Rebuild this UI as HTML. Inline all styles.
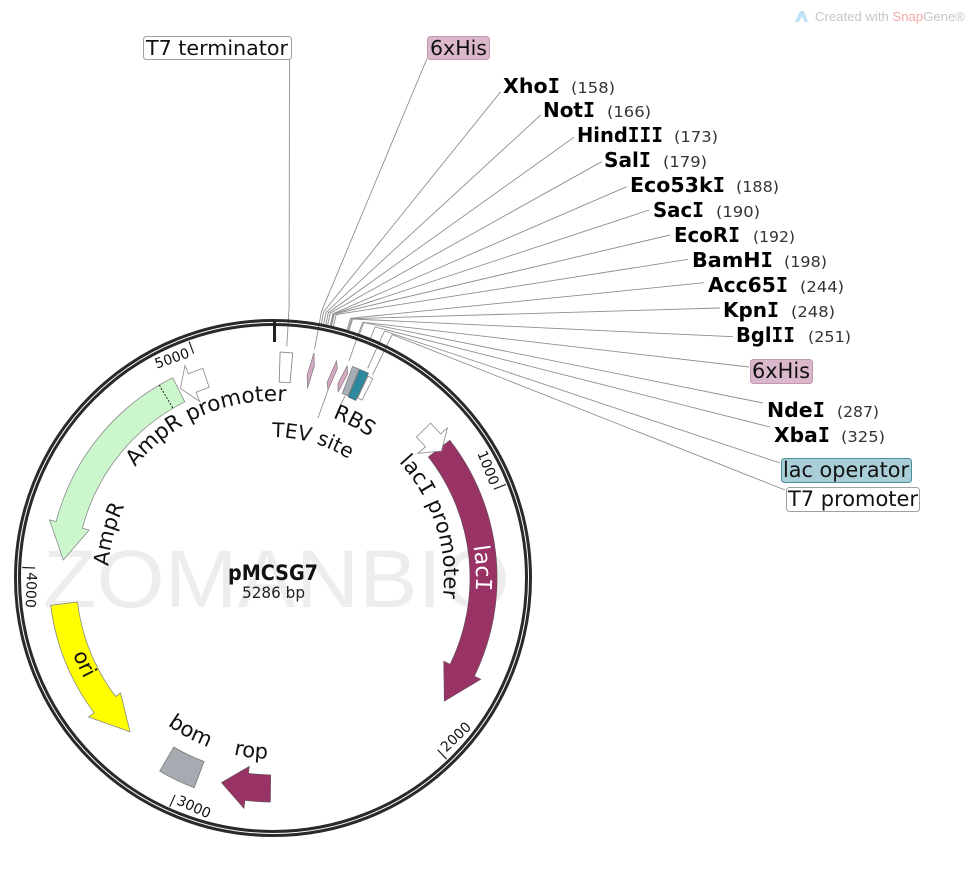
<!DOCTYPE html>
<html>
<head>
<meta charset="utf-8">
<style>
  html,body{margin:0;padding:0;background:#fff;}
  svg{display:block;}
  .si{font-family:"DejaVu Sans Mono","Liberation Mono",monospace;}
</style>
</head>
<body>
<svg width="974" height="869" viewBox="0 0 974 869" xmlns="http://www.w3.org/2000/svg" font-family="'DejaVu Sans','Liberation Sans',sans-serif">
  <rect x="0" y="0" width="974" height="869" fill="#ffffff"/>

  <!-- watermark -->
  <text x="43" y="607" font-family="'Liberation Sans',sans-serif" font-size="82" fill="#ededed" textLength="467" lengthAdjust="spacingAndGlyphs">ZOMANBIO</text>

  <!-- SnapGene credit -->
  <polygon points="795,22 800,11 804,11 808,22 804.5,22 802,16 799,22" fill="#bfe3f5"/>
  <text x="815" y="21" font-family="'Liberation Sans',sans-serif" font-size="12.5" fill="#c6c6c6" textLength="150" lengthAdjust="spacingAndGlyphs">Created with <tspan fill="#f2a8a8">Snap</tspan>Gene®</text>

  <!-- leader lines -->
  <g fill="none" stroke="#8f8f8f" stroke-width="0.9">
    <polyline points="289.5,59 289.1,307.5 286.8,346.4"/>
    <polyline points="427,58.5 321.5,311.4 314.5,349.7"/>
    <polyline points="500.7,91.7 323.6,311.8 321.4,323.6"/>
    <polyline points="540.7,115 326.1,312.3 323.7,324.0"/>
    <polyline points="574,137.3 328.3,312.7 325.9,324.5"/>
    <polyline points="601.7,161.7 330.2,313.1 327.7,324.8"/>
    <polyline points="626.7,186.7 333.0,313.7 330.4,325.4"/>
    <polyline points="649.3,210 333.7,313.9 331.0,325.6"/>
    <polyline points="670,235 334.3,314.0 331.6,325.7"/>
    <polyline points="688.3,259.3 336.2,314.5 333.4,326.1"/>
    <polyline points="704,282.7 350.5,318.3 347.1,329.8"/>
    <polyline points="720,308 351.7,318.7 348.2,330.2"/>
    <polyline points="733,336.7 352.6,319.0 349.1,330.5"/>
    <polyline points="749,367 362.6,322.2 349.0,360.9"/>
    <polyline points="763,403 363.7,322.6 359.7,333.9"/>
    <polyline points="770,427 375.1,327.0 370.6,338.1"/>
    <polyline points="780,463 384.5,331.0 367.6,368.4"/>
    <polyline points="785,490 392.2,334.6 372.4,375.1"/>
    <polyline points="318,418 328,390"/>
    <polyline points="341,404 345,396"/>
  </g>

  <!-- backbone ring -->
  <circle cx="273" cy="578" r="257.5" fill="none" stroke="#2a2a2a" stroke-width="3"/>
  <circle cx="273" cy="578" r="253.5" fill="none" stroke="#2a2a2a" stroke-width="3"/>
  <line x1="274.5" y1="322" x2="274.5" y2="342" stroke="#222" stroke-width="3"/>

  <!-- ticks -->
  <g stroke="#222" stroke-width="1.2">
    <line x1="505.9" y1="484.4" x2="493.8" y2="489.2"/>
    <line x1="446.7" y1="759.2" x2="437.7" y2="749.8"/>
    <line x1="169.7" y1="806.8" x2="175.1" y2="794.9"/>
    <line x1="22.2" y1="567.5" x2="35.2" y2="568.0"/>
    <line x1="189.2" y1="341.4" x2="193.6" y2="353.7"/>
  </g>
  <g font-size="14" fill="#111">
    <text transform="translate(490.4,486.2) rotate(68.1)" text-anchor="end">1000</text>
    <text transform="translate(190.4,356.9) rotate(-19.5)" text-anchor="end">5000</text>
    <text transform="translate(446.3,752.6) rotate(-43.8)" text-anchor="start">2000</text>
    <text transform="translate(175.7,803.9) rotate(24.3)" text-anchor="start">3000</text>
    <text transform="translate(27.1,572.0) rotate(92.4)" text-anchor="start">4000</text>
  </g>

  <!-- features -->
  <path d="M172.7,377.7 A224,224 0 0 0 56.2,521.5 L49.5,519.8 L63.3,560.0 L89.1,530.1 L82.4,528.3 A197,197 0 0 1 184.8,401.8 Z" fill="#ccf7cc" stroke="#8a8a8a" stroke-width="0.8"/>
  <line x1="159.3" y1="385.0" x2="173.0" y2="408.3" stroke="#111" stroke-width="0.9" stroke-dasharray="2,1.5"/>
  <path d="M202.9,368.4 A221,221 0 0 0 188.4,373.8 L185.0,365.5 L180.5,388.4 L199.9,401.5 L196.1,392.3 A201,201 0 0 1 209.2,387.4 Z" fill="#ffffff" stroke="#8a8a8a" stroke-width="0.8"/>
  <path d="M449.8,440.4 A224,224 0 0 1 474.3,676.2 L480.6,679.3 L444.4,701.1 L443.8,661.3 L450.1,664.4 A197,197 0 0 0 428.5,457.0 Z" fill="#993366" stroke="#6e4a5c" stroke-width="0.8"/>
  <path d="M430.6,423.1 A221,221 0 0 1 440.5,433.9 L447.4,428.0 L441.5,451.0 L417.8,453.4 L425.4,446.9 A201,201 0 0 0 416.4,437.1 Z" fill="#ffffff" stroke="#8a8a8a" stroke-width="0.8"/>
  <path d="M50.7,605.3 A224,224 0 0 0 94.1,712.8 L88.5,717.0 L130.1,731.8 L120.5,692.9 L115.7,696.6 A197,197 0 0 1 77.5,602.0 Z" fill="#ffff00" stroke="#8a8a8a" stroke-width="0.8"/>
  <path d="M194.2,787.7 A224,224 0 0 1 159.7,771.2 L173.8,747.1 A196,196 0 0 0 204.0,761.5 Z" fill="#a6abb1" stroke="#7a7a7a" stroke-width="0.8"/>
  <path d="M270.3,802.0 A224,224 0 0 1 244.9,800.2 L243.9,808.2 L221.6,782.6 L249.2,766.5 L248.3,773.4 A197,197 0 0 0 270.6,775.0 Z" fill="#993366" stroke="#6e4a5c" stroke-width="0.8"/>

  <!-- small features near origin -->
  <path d="M280.1,352.1 L292.7,352.9 L290.1,382.7 L279.2,382.1 Z" fill="#ffffff" stroke="#8a8a8a" stroke-width="0.9"/>
  <polygon points="314.0,352.7 314.3,365.9 307.5,388.1 307.2,374.9" fill="#d6a8c6" stroke="#7a7a7a" stroke-width="0.7"/>
  <polygon points="336.4,361.1 337.4,368.5 328.0,389.9 327.1,382.5" fill="#d6a8c6" stroke="#7a7a7a" stroke-width="0.7"/>
  <polygon points="347.3,365.7 347.5,374.1 338.1,392.1 337.9,383.7" fill="#d6a8c6" stroke="#7a7a7a" stroke-width="0.7"/>
  <path d="M352.5,366.4 L359.1,369.1 L348.1,395.9 L342.3,393.6 Z" fill="#a7adb4" stroke="#7a7a7a" stroke-width="0.7"/>
  <path d="M359.9,369.4 L368.5,373.2 L355.8,400.4 L348.3,397.1 Z" fill="#2d8a9e" stroke="#5a6a70" stroke-width="0.7"/>
  <path d="M368.0,376.2 L372.9,378.6 L362.1,400.1 L357.7,398.0 Z" fill="#ffffff" stroke="#8a8a8a" stroke-width="0.8"/>

  <!-- curved label paths -->
  <defs>
    <path id="pAmpRprom" d="M113.9,500.4 A177,177 0 0 1 324.8,408.7"/>
    <path id="pAmpR" d="M113.6,620.7 A165,165 0 0 1 156.3,461.3"/>
    <path id="pLacIprom" d="M358.5,429.9 A171,171 0 0 1 429.2,647.5"/>
    <path id="pLacI" d="M438.5,460.4 A203,203 0 0 1 448.8,679.5"/>
    <path id="pOri" d="M59.8,559.3 A214,214 0 0 0 147.2,751.1"/>
    <path id="pBom" d="M119.0,673.1 A181,181 0 0 0 278.4,758.9"/>
    <path id="pRop" d="M163.7,722.0 A181,181 0 0 0 343.3,744.8"/>
    <path id="pTEV" d="M215.7,449.2 A141,141 0 0 1 389.9,499.2"/>
    <path id="pRBS" d="M265.2,407.2 A171,171 0 0 1 417.1,485.9"/>
  </defs>
  <g font-size="21" fill="#111">
    <text font-size="21.5"><textPath href="#pAmpRprom" startOffset="50%" text-anchor="middle">AmpR promoter</textPath></text>
    <text><textPath href="#pAmpR" startOffset="50%" text-anchor="middle">AmpR</textPath></text>
    <text><textPath href="#pLacIprom" startOffset="50%" text-anchor="middle">lac<tspan class="si">I</tspan> promoter</textPath></text>
    <text font-size="22" fill="#ffffff"><textPath href="#pLacI" startOffset="50%" text-anchor="middle">lac<tspan class="si">I</tspan></textPath></text>
    <text><textPath href="#pOri" startOffset="50%" text-anchor="middle">ori</textPath></text>
    <text><textPath href="#pBom" startOffset="50%" text-anchor="middle">bom</textPath></text>
    <text><textPath href="#pRop" startOffset="50%" text-anchor="middle">rop</textPath></text>
    <text font-size="20"><textPath href="#pTEV" startOffset="50%" text-anchor="middle">TEV site</textPath></text>
    <text><textPath href="#pRBS" startOffset="50%" text-anchor="middle">RBS</textPath></text>
  </g>

  <!-- center title -->
  <text x="273" y="580" text-anchor="middle" font-weight="bold" font-size="21" fill="#111" textLength="90" lengthAdjust="spacingAndGlyphs">pMCSG7</text>
  <text x="273.5" y="598" text-anchor="middle" font-size="16" fill="#222" textLength="63" lengthAdjust="spacingAndGlyphs">5286 bp</text>

  <!-- boxed feature labels -->
  <rect x="143.5" y="36.5" width="148" height="23" rx="3" fill="#ffffff" stroke="#a0a0a0"/>
  <text x="146" y="55" font-size="20" fill="#111" textLength="142" lengthAdjust="spacingAndGlyphs">T7 terminator</text>

  <rect x="427.5" y="36.5" width="62" height="23" rx="3" fill="#dbb7cb" stroke="#c497b0"/>
  <text x="430" y="55" font-size="20" fill="#111" textLength="57" lengthAdjust="spacingAndGlyphs">6xHis</text>

  <rect x="750.5" y="359.5" width="62" height="24" rx="3" fill="#dbb7cb" stroke="#c497b0"/>
  <text x="752" y="378" font-size="21" fill="#111" textLength="58" lengthAdjust="spacingAndGlyphs">6xHis</text>

  <rect x="781.5" y="458.5" width="130" height="24" rx="3" fill="#a9ced7" stroke="#4d8f9e"/>
  <text x="783" y="477" font-size="21" fill="#111" textLength="126" lengthAdjust="spacingAndGlyphs">lac operator</text>

  <rect x="786.5" y="487.5" width="133" height="24" rx="3" fill="#ffffff" stroke="#a0a0a0"/>
  <text x="788" y="506" font-size="21" fill="#111" textLength="130" lengthAdjust="spacingAndGlyphs">T7 promoter</text>

  <!-- enzyme labels -->
  <g font-weight="bold" font-size="20.5" fill="#000">
    <text x="503" y="93" textLength="57" lengthAdjust="spacingAndGlyphs">Xho<tspan class="si">I</tspan></text>
    <text x="543" y="117" textLength="52" lengthAdjust="spacingAndGlyphs">Not<tspan class="si">I</tspan></text>
    <text x="577" y="142" textLength="86" lengthAdjust="spacingAndGlyphs">Hind<tspan class="si">III</tspan></text>
    <text x="604" y="167" textLength="47" lengthAdjust="spacingAndGlyphs">Sal<tspan class="si">I</tspan></text>
    <text x="630" y="192" textLength="95" lengthAdjust="spacingAndGlyphs">Eco53k<tspan class="si">I</tspan></text>
    <text x="653" y="217" textLength="51" lengthAdjust="spacingAndGlyphs">Sac<tspan class="si">I</tspan></text>
    <text x="674" y="242" textLength="66" lengthAdjust="spacingAndGlyphs">EcoR<tspan class="si">I</tspan></text>
    <text x="692" y="267" textLength="81" lengthAdjust="spacingAndGlyphs">BamH<tspan class="si">I</tspan></text>
    <text x="708" y="292" textLength="80" lengthAdjust="spacingAndGlyphs">Acc65<tspan class="si">I</tspan></text>
    <text x="723" y="317" textLength="56" lengthAdjust="spacingAndGlyphs">Kpn<tspan class="si">I</tspan></text>
    <text x="736" y="342" textLength="59" lengthAdjust="spacingAndGlyphs">Bgl<tspan class="si">II</tspan></text>
    <text x="767" y="417" textLength="58" lengthAdjust="spacingAndGlyphs">Nde<tspan class="si">I</tspan></text>
    <text x="774" y="442" textLength="56" lengthAdjust="spacingAndGlyphs">Xba<tspan class="si">I</tspan></text>
  </g>
  <g font-size="15.5" fill="#333">
    <text x="571" y="93" textLength="44" lengthAdjust="spacingAndGlyphs">(158)</text>
    <text x="607" y="117" textLength="44" lengthAdjust="spacingAndGlyphs">(166)</text>
    <text x="674" y="142" textLength="44" lengthAdjust="spacingAndGlyphs">(173)</text>
    <text x="663" y="167" textLength="44" lengthAdjust="spacingAndGlyphs">(179)</text>
    <text x="736" y="192" textLength="43" lengthAdjust="spacingAndGlyphs">(188)</text>
    <text x="716" y="217" textLength="44" lengthAdjust="spacingAndGlyphs">(190)</text>
    <text x="753" y="242" textLength="42" lengthAdjust="spacingAndGlyphs">(192)</text>
    <text x="784" y="267" textLength="43" lengthAdjust="spacingAndGlyphs">(198)</text>
    <text x="800" y="292" textLength="44" lengthAdjust="spacingAndGlyphs">(244)</text>
    <text x="791" y="317" textLength="44" lengthAdjust="spacingAndGlyphs">(248)</text>
    <text x="808" y="342" textLength="43" lengthAdjust="spacingAndGlyphs">(251)</text>
    <text x="837" y="417" textLength="42" lengthAdjust="spacingAndGlyphs">(287)</text>
    <text x="841" y="442" textLength="44" lengthAdjust="spacingAndGlyphs">(325)</text>
  </g>
</svg>
</body>
</html>
